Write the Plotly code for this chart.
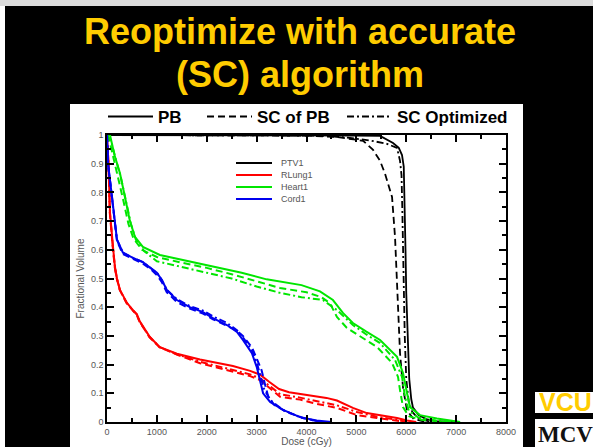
import plotly.graph_objects as go

# ---------------- data (dose in cGy, fractional volume) ----------------
ptv_pb_dose = [0, 4400, 5000, 5475, 5735, 5850, 5915, 5950, 5965, 5985, 6000, 6015, 6060, 6100, 6135, 6250, 6400, 6600, 7000]
ptv_pb_vol = [1.0, 1.0, 0.998, 0.997, 0.972, 0.955, 0.93, 0.89, 0.8, 0.6, 0.45, 0.35, 0.15, 0.08, 0.05, 0.024, 0.01, 0.003, 0.0]
ptv_scpb_dose = [0, 4000, 4600, 5135, 5335, 5475, 5575, 5640, 5715, 5775, 5835, 5875, 5935, 6015, 6150, 6400]
ptv_scpb_vol = [1.0, 0.998, 0.993, 0.98, 0.948, 0.91, 0.865, 0.83, 0.784, 0.645, 0.415, 0.24, 0.12, 0.04, 0.01, 0.0]
ptv_sco_dose = [0, 4300, 4870, 5300, 5600, 5815, 5875, 5905, 5920, 5935, 5950, 5970, 6000, 6050, 6120, 6250, 6500]
ptv_sco_vol = [1.0, 0.998, 0.99, 0.98, 0.97, 0.955, 0.91, 0.86, 0.75, 0.6, 0.45, 0.3, 0.15, 0.07, 0.035, 0.012, 0.0]

lung_pb_dose = [0, 30, 60, 90, 120, 160, 200, 260, 400, 520, 600, 660, 860, 1060, 1400, 1865, 2205, 2525, 2870, 3070, 3250, 3450, 3650, 3900, 4130, 4400, 4610, 4930, 5210, 5815, 6015, 6200]
lung_pb_vol = [1.0, 0.9, 0.73, 0.65, 0.61, 0.54, 0.5, 0.46, 0.415, 0.39, 0.375, 0.35, 0.296, 0.261, 0.238, 0.218, 0.207, 0.195, 0.178, 0.165, 0.14, 0.115, 0.104, 0.097, 0.092, 0.084, 0.075, 0.049, 0.031, 0.014, 0.005, 0.0]
lung_scpb_dose = [0, 30, 55, 85, 115, 155, 195, 255, 390, 510, 590, 650, 850, 1050, 1400, 1865, 2200, 2525, 2870, 3070, 3270, 3470, 3870, 4130, 4610, 5010, 5415, 5800, 6000]
lung_scpb_vol = [1.0, 0.9, 0.73, 0.65, 0.61, 0.54, 0.5, 0.46, 0.415, 0.39, 0.375, 0.35, 0.296, 0.261, 0.235, 0.205, 0.19, 0.173, 0.16, 0.146, 0.118, 0.088, 0.078, 0.066, 0.049, 0.024, 0.014, 0.005, 0.0]
lung_sco_dose = [0, 30, 58, 88, 118, 158, 198, 258, 395, 515, 595, 655, 855, 1055, 1400, 1865, 2200, 2525, 2870, 3070, 3270, 3470, 3870, 4130, 4610, 5010, 5415, 5800, 6000]
lung_sco_vol = [1.0, 0.9, 0.73, 0.65, 0.61, 0.54, 0.5, 0.46, 0.415, 0.39, 0.375, 0.35, 0.296, 0.261, 0.236, 0.21, 0.196, 0.182, 0.166, 0.152, 0.125, 0.097, 0.085, 0.075, 0.058, 0.035, 0.018, 0.008, 0.0]

heart_pb_dose = [0, 60, 150, 260, 360, 460, 560, 720, 1060, 1525, 2200, 2700, 3200, 3600, 3900, 4270, 4530, 4730, 4930, 5200, 5475, 5815, 5935, 6015, 6075, 6275, 6615, 7080]
heart_pb_vol = [1.0, 1.0, 0.93, 0.867, 0.784, 0.70, 0.645, 0.61, 0.582, 0.565, 0.54, 0.52, 0.497, 0.487, 0.477, 0.455, 0.425, 0.38, 0.345, 0.315, 0.286, 0.227, 0.171, 0.101, 0.052, 0.024, 0.012, 0.0]
heart_scpb_dose = [0, 50, 130, 230, 330, 430, 530, 700, 1000, 1500, 2000, 2500, 3000, 3470, 4000, 4300, 4470, 4610, 4810, 5100, 5415, 5715, 5835, 5875, 5935, 6050, 6300, 6800]
heart_scpb_vol = [1.0, 0.98, 0.92, 0.85, 0.77, 0.69, 0.64, 0.6, 0.575, 0.555, 0.537, 0.515, 0.49, 0.467, 0.452, 0.435, 0.414, 0.366, 0.328, 0.295, 0.261, 0.206, 0.157, 0.111, 0.052, 0.02, 0.008, 0.0]
heart_sco_dose = [0, 80, 170, 280, 380, 480, 580, 750, 1000, 1500, 2000, 2500, 3000, 3470, 3900, 4330, 4610, 4930, 5200, 5475, 5775, 5915, 5975, 6050, 6250, 6600, 7000]
heart_sco_vol = [1.0, 0.98, 0.92, 0.85, 0.77, 0.69, 0.635, 0.595, 0.56, 0.54, 0.52, 0.5, 0.472, 0.45, 0.435, 0.425, 0.39, 0.338, 0.305, 0.275, 0.216, 0.157, 0.087, 0.04, 0.015, 0.005, 0.0]

cord_pb_dose = [0, 20, 100, 160, 200, 320, 520, 720, 860, 1000, 1100, 1200, 1400, 1660, 1925, 2125, 2405, 2605, 2725, 2905, 3005, 3070, 3130, 3270, 3530, 3870, 4200, 4500]
cord_pb_vol = [1.0, 0.9, 0.784, 0.70, 0.635, 0.59, 0.572, 0.557, 0.54, 0.52, 0.495, 0.46, 0.425, 0.40, 0.383, 0.362, 0.338, 0.314, 0.286, 0.24, 0.19, 0.146, 0.10, 0.07, 0.042, 0.017, 0.005, 0.0]
cord_scpb_dose = [0, 20, 100, 160, 200, 320, 520, 720, 860, 1000, 1100, 1200, 1400, 1660, 1925, 2125, 2405, 2605, 2725, 2905, 3005, 3100, 3170, 3230, 3350, 3600, 3950, 4300]
cord_scpb_vol = [1.0, 0.9, 0.78, 0.695, 0.63, 0.585, 0.568, 0.552, 0.535, 0.512, 0.487, 0.452, 0.418, 0.395, 0.378, 0.358, 0.335, 0.318, 0.3, 0.26, 0.22, 0.18, 0.13, 0.09, 0.06, 0.035, 0.013, 0.0]
cord_sco_dose = [0, 20, 100, 160, 200, 320, 520, 720, 860, 1000, 1100, 1200, 1400, 1660, 1925, 2125, 2405, 2605, 2725, 2905, 3005, 3070, 3150, 3280, 3550, 3900, 4300]
cord_sco_vol = [1.0, 0.9, 0.784, 0.70, 0.635, 0.59, 0.572, 0.557, 0.54, 0.52, 0.495, 0.46, 0.428, 0.404, 0.388, 0.368, 0.345, 0.32, 0.295, 0.25, 0.205, 0.165, 0.115, 0.075, 0.04, 0.015, 0.0]

structures = ["PTV1", "RLung1", "Heart1", "Cord1"]
colors = ["#000000", "#ff0000", "#00e600", "#0000ee"]
plans = ["PB", "SC of PB", "SC Optimized"]
dashes = ["solid", "7px,4px", "7px,3px,2px,3px"]

series = {
    "PTV1": [(ptv_pb_dose, ptv_pb_vol), (ptv_scpb_dose, ptv_scpb_vol), (ptv_sco_dose, ptv_sco_vol)],
    "RLung1": [(lung_pb_dose, lung_pb_vol), (lung_scpb_dose, lung_scpb_vol), (lung_sco_dose, lung_sco_vol)],
    "Heart1": [(heart_pb_dose, heart_pb_vol), (heart_scpb_dose, heart_scpb_vol), (heart_sco_dose, heart_sco_vol)],
    "Cord1": [(cord_pb_dose, cord_pb_vol), (cord_scpb_dose, cord_scpb_vol), (cord_sco_dose, cord_sco_vol)],
}

x_ticks = [0, 1000, 2000, 3000, 4000, 5000, 6000, 7000, 8000]

FONT = "Arial, Liberation Sans, sans-serif"
W, H = 593, 447
L, R, T, B = 107, 506, 135, 422   # plot area in pixels


def px(x):
    return (x - L) / (R - L)


def py(y):
    return (B - y) / (B - T)


fig = go.Figure()

for s, c in zip(structures, colors):
    for (d, v), dash, p in zip(series[s], dashes, plans):
        fig.add_trace(go.Scatter(x=d, y=v, mode="lines", showlegend=False,
                                 line=dict(color=c, width=2 if s != "PTV1" else 1.8, dash=dash),
                                 hoverinfo="skip"))

# top legends: plan line styles (one legend box per entry, placed like the original)
legend_names = ["legend", "legend2", "legend3"]
legend_x = [103, 202, 342]
for p, dash, lg in zip(plans, dashes, legend_names):
    fig.add_trace(go.Scatter(x=[None], y=[None], mode="lines", name=p,
                             line=dict(color="black", width=2, dash=dash), legend=lg))

shapes = []
annotations = []

# white slide panel
shapes.append(dict(type="rect", xref="paper", yref="paper", x0=px(70), x1=px(523), y0=py(447), y1=py(104),
                   fillcolor="white", line=dict(width=0), layer="below"))
# top light strip and left white strip of the slide capture
shapes.append(dict(type="rect", xref="paper", yref="paper", x0=px(0), x1=px(593), y0=py(6), y1=py(0),
                   fillcolor="#dcdcdc", line=dict(width=0), layer="below"))
shapes.append(dict(type="rect", xref="paper", yref="paper", x0=px(0), x1=px(5), y0=py(447), y1=py(6),
                   fillcolor="white", line=dict(width=0), layer="below"))

# inner legend: structures
for i, (s, c) in enumerate(zip(structures, colors)):
    yy = 163 + 12 * i
    shapes.append(dict(type="line", xref="paper", yref="paper", x0=px(236), x1=px(272), y0=py(yy), y1=py(yy),
                       line=dict(color=c, width=2)))
    annotations.append(dict(text=s, xref="paper", yref="paper", x=px(279), y=py(yy), xanchor="left",
                            yanchor="middle", showarrow=False, font=dict(family=FONT, size=9, color="#555555")))

# title
annotations.append(dict(text="<b>Reoptimize with accurate</b>", xref="paper", yref="paper", x=px(300), y=py(31),
                        xanchor="center", yanchor="middle", showarrow=False,
                        font=dict(family=FONT, size=36, color="#ffcc00")))
annotations.append(dict(text="<b>(SC) algorithm</b>", xref="paper", yref="paper", x=px(300), y=py(74),
                        xanchor="center", yanchor="middle", showarrow=False,
                        font=dict(family=FONT, size=36, color="#ffcc00")))

# logo
shapes.append(dict(type="rect", xref="paper", yref="paper", x0=px(535), x1=px(593), y0=py(447), y1=py(392),
                   fillcolor="white", line=dict(width=0), layer="below"))
shapes.append(dict(type="rect", xref="paper", yref="paper", x0=px(535), x1=px(593), y0=py(419), y1=py(413),
                   fillcolor="black", line=dict(width=0), layer="below"))
annotations.append(dict(text="<b>VCU</b>", xref="paper", yref="paper", x=px(565), y=py(402), xanchor="center",
                        yanchor="middle", showarrow=False, font=dict(family=FONT, size=25, color="#ffcc00")))
annotations.append(dict(text="<b>MCV</b>", xref="paper", yref="paper", x=px(565), y=py(434), xanchor="center",
                        yanchor="middle", showarrow=False, font=dict(family="Liberation Serif, serif", size=23, color="#111111")))

axis_common = dict(showline=True, linecolor="black", linewidth=1.5, mirror="ticks", ticks="inside",
                   ticklen=7, tickwidth=1.5, tickcolor="black", showgrid=False, zeroline=False,
                   automargin=False, tickfont=dict(family=FONT, size=9, color="#555555"))

legend_common = dict(orientation="h", yanchor="middle", xanchor="left", y=py(117),
                     bgcolor="rgba(0,0,0,0)", itemwidth=45,
                     font=dict(family=FONT, size=17, color="black", weight="bold"))

fig.update_layout(
    width=W, height=H,
    margin=dict(l=L, r=W - R, t=T, b=H - B),
    paper_bgcolor="black", plot_bgcolor="white",
    shapes=shapes, annotations=annotations,
    xaxis=dict(range=[0, 8000], tickvals=x_ticks, tickformat="d",
               minor=dict(dtick=500, ticks="inside", ticklen=4, tickwidth=1.5, tickcolor="black"),
               title=dict(text="Dose (cGy)", font=dict(family=FONT, size=10, color="#555555"), standoff=7),
               **axis_common),
    yaxis=dict(range=[0, 1], dtick=0.1,
               minor=dict(dtick=0.05, ticks="inside", ticklen=4, tickwidth=1.5, tickcolor="black"),
               title=dict(text="Fractional Volume", font=dict(family=FONT, size=10, color="#555555"), standoff=4),
               **axis_common),
    legend=dict(x=px(legend_x[0]), **legend_common),
    legend2=dict(x=px(legend_x[1]), **legend_common),
    legend3=dict(x=px(legend_x[2]), **legend_common),
)

fig.write_html("out.html")
